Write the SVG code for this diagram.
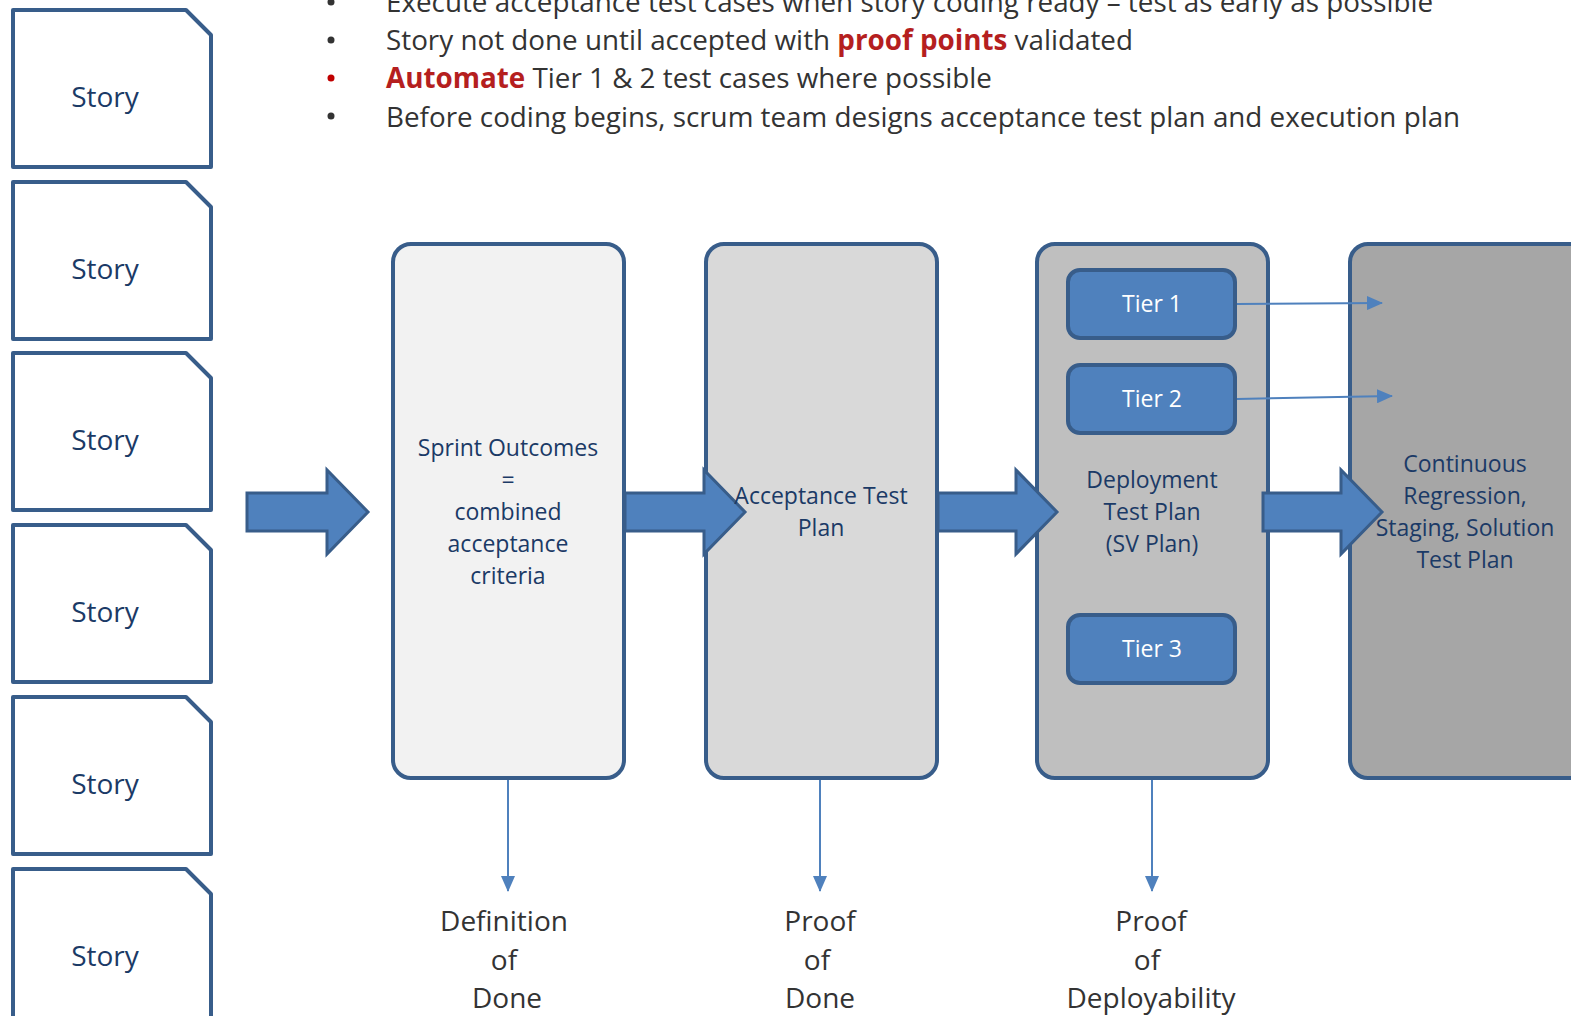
<svg xmlns="http://www.w3.org/2000/svg" width="1571" height="1016" viewBox="0 0 1571 1016">
<style>
.card{fill:#fff;stroke:#385D8A;stroke-width:4;stroke-linejoin:round}
.story{font-family:"Open Sans","Noto Sans",sans-serif;font-size:28px;fill:#1B3A66;text-anchor:middle}
.bul{font-family:"Open Sans","Noto Sans",sans-serif;font-size:27.8px;fill:#333}
.red{fill:#B51F1F;font-weight:bold}
.box{stroke:#385D8A;stroke-width:4}
.btxt{font-family:"Open Sans","Noto Sans",sans-serif;font-size:23px;fill:#1B3A66;text-anchor:middle}
.tier{fill:#4F81BD;stroke:#385D8A;stroke-width:4}
.ttxt{font-family:"Open Sans","Noto Sans",sans-serif;font-size:23px;fill:#fff;text-anchor:middle}
.blk{fill:#4F81BD;stroke:#385D8A;stroke-width:3}
.con{fill:none;stroke:#4F81BD;stroke-width:2}
.lbl{font-family:"Open Sans","Noto Sans",sans-serif;font-size:28px;fill:#333;text-anchor:middle}
</style>
<defs>
<marker id="ah" markerUnits="userSpaceOnUse" markerWidth="16" markerHeight="14" refX="15" refY="7" orient="auto">
<path d="M0,0 L16,7 L0,14 Z" fill="#4F81BD"/>
</marker>
</defs>
<g id="bullets">
<circle cx="331" cy="2" r="3.5" fill="#333"/>
<text class="bul" x="386" y="12">Execute acceptance test cases when story coding ready – test as early as possible</text>
<circle cx="331" cy="40" r="3.5" fill="#333"/>
<text class="bul" x="386" y="50">Story not done until accepted with <tspan class="red">proof points</tspan> validated</text>
<circle cx="331" cy="78" r="3.5" fill="#C00000"/>
<text class="bul" x="386" y="88"><tspan class="red">Automate</tspan> Tier 1 &amp; 2 test cases where possible</text>
<circle cx="331" cy="116" r="3.5" fill="#333"/>
<text class="bul" x="386" y="127">Before coding begins, scrum team designs acceptance test plan and execution plan</text>
</g>
<g id="story1"><path class="card" d="M13,10 H186 L211,35 V167 H13 Z"/><text class="story" x="105" y="107">Story</text></g>
<g id="story2" transform="translate(0,172)"><path class="card" d="M13,10 H186 L211,35 V167 H13 Z"/><text class="story" x="105" y="107">Story</text></g>
<g id="story3" transform="translate(0,343)"><path class="card" d="M13,10 H186 L211,35 V167 H13 Z"/><text class="story" x="105" y="107">Story</text></g>
<g id="story4" transform="translate(0,515)"><path class="card" d="M13,10 H186 L211,35 V167 H13 Z"/><text class="story" x="105" y="107">Story</text></g>
<g id="story5" transform="translate(0,687)"><path class="card" d="M13,10 H186 L211,35 V167 H13 Z"/><text class="story" x="105" y="107">Story</text></g>
<g id="story6" transform="translate(0,859)"><path class="card" d="M13,10 H186 L211,35 V167 H13 Z"/><text class="story" x="105" y="107">Story</text></g>
<g id="box1"><rect class="box" x="393" y="244" width="231" height="534" rx="18" fill="#F2F2F2"/></g>
<g id="box2"><rect class="box" x="706" y="244" width="231" height="534" rx="18" fill="#D9D9D9"/></g>
<g id="box3"><rect class="box" x="1037" y="244" width="231" height="534" rx="18" fill="#BFBFBF"/></g>
<g id="box4"><rect class="box" x="1350" y="244" width="260" height="534" rx="18" fill="#A6A6A6"/></g>
<g id="connectors">
<path class="blk" d="M247,493 H327 V470 L368,512 L327,554 V531 H247 Z"/>
<path class="blk" d="M625,493 H704 V470 L745,512 L704,554 V531 H625 Z"/>
<path class="blk" d="M938,493 H1016 V470 L1057,512 L1016,554 V531 H938 Z"/>
<path class="blk" d="M1263,493 H1341 V470 L1382,512 L1341,554 V531 H1263 Z"/>
<path class="con" d="M1237,304 L1382,303" marker-end="url(#ah)"/>
<path class="con" d="M1237,399 L1392,396" marker-end="url(#ah)"/>
<path class="con" d="M508,780 V891" marker-end="url(#ah)"/>
<path class="con" d="M820,780 V891" marker-end="url(#ah)"/>
<path class="con" d="M1152,780 V891" marker-end="url(#ah)"/>
</g>
<g id="box1text">
<text class="btxt" x="508" y="456">Sprint Outcomes</text>
<text class="btxt" x="508" y="488">=</text>
<text class="btxt" x="508" y="520">combined</text>
<text class="btxt" x="508" y="552">acceptance</text>
<text class="btxt" x="508" y="584">criteria</text>
</g>
<g id="box2text">
<text class="btxt" x="821" y="504">Acceptance Test</text>
<text class="btxt" x="821" y="536">Plan</text>
</g>
<g id="box3text">
<text class="btxt" x="1152" y="488">Deployment</text>
<text class="btxt" x="1152" y="520">Test Plan</text>
<text class="btxt" x="1152" y="552">(SV Plan)</text>
</g>
<g id="box4text">
<text class="btxt" x="1465" y="472">Continuous</text>
<text class="btxt" x="1465" y="504">Regression,</text>
<text class="btxt" x="1465" y="536">Staging, Solution</text>
<text class="btxt" x="1465" y="568">Test Plan</text>
</g>
<g id="tier1"><rect class="tier" x="1068" y="270" width="167" height="68" rx="12"/><text class="ttxt" x="1152" y="312">Tier 1</text></g>
<g id="tier2"><rect class="tier" x="1068" y="365" width="167" height="68" rx="12"/><text class="ttxt" x="1152" y="407">Tier 2</text></g>
<g id="tier3"><rect class="tier" x="1068" y="615" width="167" height="68" rx="12"/><text class="ttxt" x="1152" y="657">Tier 3</text></g>
<g id="labels">
<text class="lbl" x="504" y="931">Definition</text>
<text class="lbl" x="504" y="970">of</text>
<text class="lbl" x="507" y="1008">Done</text>
<text class="lbl" x="820" y="931">Proof</text>
<text class="lbl" x="817" y="970">of</text>
<text class="lbl" x="820" y="1008">Done</text>
<text class="lbl" x="1151" y="931">Proof</text>
<text class="lbl" x="1147" y="970">of</text>
<text class="lbl" x="1151" y="1008">Deployability</text>
</g>
</svg>
